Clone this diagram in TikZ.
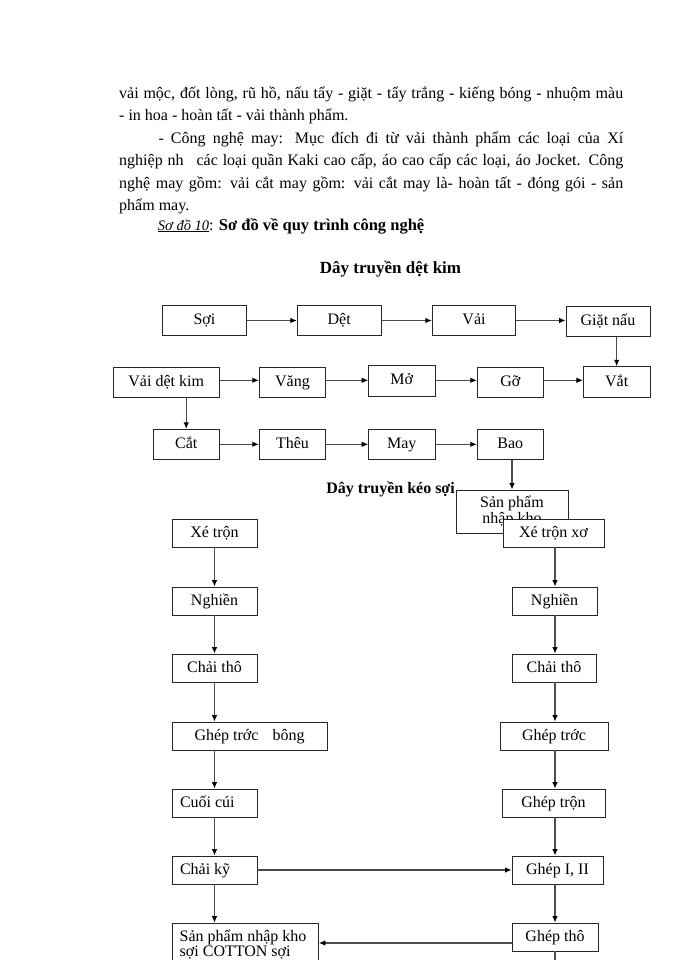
\documentclass[tikz,border=0pt]{standalone}
\usepackage{fontspec}
\setmainfont{Liberation Serif}
\usetikzlibrary{arrows.meta,calc}
\begin{document}
\begin{tikzpicture}[x=1pt,y=-1pt,
  pbox/.style={draw=black!85, line width=0.9pt, fill=white, inner sep=0pt,
     text height=11pt, text depth=3pt,
     minimum height=29.6pt, font=\fontsize{16}{19}\selectfont},
  arr/.style={draw=black!70, line width=1.1pt, -{Latex[length=6.5pt,width=5.5pt,black]}},
  ln/.style={draw=black!70, line width=1.1pt},
  para/.style={anchor=base west, inner sep=0pt, font=\fontsize{16}{19}\selectfont},
  ttl/.style={anchor=base, inner sep=0pt, font=\fontsize{17}{20}\selectfont\bfseries}]
\useasboundingbox (0,0) rectangle (700,960);
\fill[white] (0,0) rectangle (700,960);
\clip (0,0) rectangle (700,960);

% paragraph
\node[para] (p1) at (119,99) {\makebox[504pt][s]{vải mộc, đốt lòng, rũ hồ, nấu tẩy - giặt - tẩy trắng - kiếng bóng - nhuộm màu}};
\node[para] (p2) at (119,121) {- in hoa - hoàn tất - vải thành phẩm.};
\node[para] (p3) at (158.3,144) {\makebox[464.7pt][s]{- Công nghệ may: Mục đích đi từ vải thành phẩm các loại của Xí}};
\node[para] (p4) at (119,166) {\makebox[504pt][s]{nghiệp nh\hspace{8pt} các loại quần Kaki cao cấp, áo cao cấp các loại, áo Jocket. Công}};
\node[para] (p5) at (119,189) {\makebox[504pt][s]{nghệ may gồm: vải cắt may gồm: vải cắt may là- hoàn tất - đóng gói - sản}};
\node[para] (p6) at (119,210) {phẩm may.};
\node[para] (p7) at (157.7,230) {\underline{{\fontsize{14.5}{16}\selectfont\itshape Sơ đồ 10}}: {\fontsize{16.5}{19}\selectfont\bfseries Sơ đồ về quy trình công nghệ}};

% Day truyen det kim
\node[ttl] (t1) at (390.5,273.3) {Dây truyền dệt kim};

\node[pbox, minimum width=84.4pt] (soi) at (204.5,320.5) {Sợi};
\node[pbox, minimum width=83.7pt] (det) at (339.2,320.5) {Dệt};
\node[pbox, minimum width=83.4pt] (vai) at (474,320.5) {Vải};
\node[pbox, minimum width=84pt, minimum height=30.7pt] (giat) at (608,321.3) {Giặt nấu};

\node[pbox, minimum width=105.7pt, minimum height=30pt] (vdk) at (166.2,382.3) {Vải dệt kim};
\node[pbox, minimum width=66.4pt, minimum height=30pt] (vang) at (292.5,382.3) {Văng};
\node[pbox, minimum width=66.3pt, minimum height=30.7pt] (mo) at (401.8,380.7) {Mở};
\node[pbox, minimum width=66pt, minimum height=30pt] (go) at (510.3,382.3) {Gỡ};
\node[pbox, minimum width=66.7pt, minimum height=30.6pt] (vat) at (616.7,382) {Vắt};

\node[pbox, minimum width=65.7pt, minimum height=30pt] (cat) at (186.2,444.3) {Cắt};
\node[pbox, minimum width=66.4pt, minimum height=30pt] (theu) at (292.5,444.3) {Thêu};
\node[pbox, minimum width=66.3pt, minimum height=30pt] (may) at (401.8,444.3) {May};
\node[pbox, minimum width=66pt, minimum height=30pt] (bao) at (510.3,444.3) {Bao};

\draw[arr] (soi) -- (det);
\draw[arr] (det) -- (vai);
\draw[arr] (vai.east) -- (vai.east -| giat.west);
\draw[arr] (vat.north |- giat.south) -- (vat.north);
\draw[arr] ([yshift=2pt]vdk.east) -- ([yshift=2pt]vdk.east -| vang.west);
\draw[arr] ([yshift=2pt]vang.east) -- ([yshift=2pt]vang.east -| mo.west);
\draw[arr] ([yshift=2pt]go.west -| mo.east) -- ([yshift=2pt]go.west);
\draw[arr] ([yshift=2pt]go.east) -- ([yshift=2pt]go.east -| vat.west);
\draw[arr] (cat.north |- vdk.south) -- (cat.north);
\draw[arr] (cat) -- (theu);
\draw[arr] (theu) -- (may);
\draw[arr] (may) -- (bao);

% Day truyen keo soi
\node[ttl, anchor=base east, font=\fontsize{16}{19}\selectfont\bfseries] (t2) at (455,493) {Dây truyền kéo sợi};
\node[pbox, minimum width=112pt, minimum height=43pt, align=center,
      text height=, text depth=, font=\fontsize{16}{14}\selectfont] (sp1) at (512,511.5) {Sản phẩm\\nhập kho};
\draw[arr] (sp1.north |- bao.south) -- (sp1.north);

\node[pbox, minimum width=101pt, minimum height=28pt] (xtx) at (553.5,533) {Xé trộn xơ};
\node[pbox, minimum width=85pt, minimum height=28pt] (xt) at (214.5,533) {Xé trộn};
\node[pbox, minimum width=85pt, minimum height=28pt] (ng1) at (214.5,601) {Nghiền};
\node[pbox, minimum width=85pt, minimum height=28pt] (ng2) at (554.5,601) {Nghiền};
\node[pbox, minimum width=85pt, minimum height=28pt] (ct1) at (214.5,668) {Chải thô};
\node[pbox, minimum width=84pt, minimum height=28pt] (ct2) at (554,668) {Chải thô};
\node[pbox, minimum width=155pt, minimum height=28pt] (gtb) at (249.5,736) {Ghép trớc\hspace{10pt} bông};
\node[pbox, minimum width=108pt, minimum height=28pt] (gt2) at (554,736) {Ghép trớc};
\node[pbox, minimum width=85pt, minimum height=28pt] (cc) at (214.5,803) {\makebox[69pt][l]{Cuối cúi}};
\node[pbox, minimum width=103pt, minimum height=28pt] (gtr) at (553.5,803) {Ghép trộn};
\node[pbox, minimum width=85pt, minimum height=28pt] (ck) at (214.5,870) {\makebox[69pt][l]{Chải kỹ}};
\node[pbox, minimum width=91pt, minimum height=28pt] (g12) at (557.5,870) {Ghép I, II};
\node[pbox, minimum width=86pt, minimum height=28pt] (gtho) at (555,937) {Ghép thô};
\node[pbox, anchor=north west, minimum width=146pt, minimum height=60pt] (sp2) at (172,922.7) {};
\node[para] (sp2a) at (179.5,941.5) {Sản phẩm nhập kho};
\node[para] (sp2b) at (179.5,956.5) {sợi COTTON sợi};

\coordinate (rc) at (555,0);
\coordinate (bot) at (0,970);

\draw[arr] (xt) -- (ng1);
\draw[arr] (ng1) -- (ct1);
\draw[arr] (ct1.south) -- (ct1.south |- gtb.north);
\draw[arr] (ct1.south |- gtb.south) -- (cc.north);
\draw[arr] (cc) -- (ck);
\draw[arr] (ck.south) -- (ck.south |- sp2.north);
\draw[arr] (ck.east) -- (ck.east -| g12.west);

\draw[arr] (rc |- xtx.south) -- (rc |- ng2.north);
\draw[arr] (rc |- ng2.south) -- (rc |- ct2.north);
\draw[arr] (rc |- ct2.south) -- (rc |- gt2.north);
\draw[arr] (rc |- gt2.south) -- (rc |- gtr.north);
\draw[arr] (rc |- gtr.south) -- (rc |- g12.north);
\draw[arr] (rc |- g12.south) -- (rc |- gtho.north);
\draw[ln] (rc |- gtho.south) -- (rc |- bot);
\draw[arr] ([yshift=-6pt]gtho.west) -- ([yshift=-6pt]gtho.west -| sp2.east);
\end{tikzpicture}
\end{document}
